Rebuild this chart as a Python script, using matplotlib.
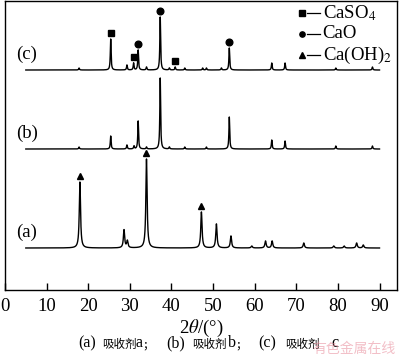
import numpy as np
import matplotlib
matplotlib.use("Agg")
import matplotlib.pyplot as plt

plt.rcParams['font.family'] = ['Liberation Serif', 'Noto Sans CJK SC']
plt.rcParams['mathtext.fontset'] = 'stix'

# ---- data: peak positions (2theta, deg) and heights (arbitrary units) ----
a_pos = [18.0, 28.6, 29.4, 34.0, 47.2, 50.8, 54.3, 59.3, 62.6, 64.2, 71.8, 79.0, 81.5, 84.5, 86.1]
a_hgt = [66, 18, 7, 89, 36, 24, 12, 2, 7, 7, 5, 2, 2, 5, 3]

b_pos = [17.8, 25.4, 29.3, 31.0, 32.0, 34.0, 37.3, 39.5, 43.2, 48.4, 53.9, 64.1, 67.3, 79.5, 88.3]
b_hgt = [2, 13, 4, 3, 28, 2, 71, 2, 2, 2, 32, 9, 8, 3, 3]

c_pos = [17.8, 25.4, 29.3, 30.9, 32.0, 34.0, 37.3, 39.5, 40.9, 43.2, 47.5, 48.4, 52.0, 53.9, 64.1, 67.3, 79.5, 88.3]
c_hgt = [2, 31, 5, 7, 20, 3, 53, 2, 3, 2, 2, 2, 2, 22, 7, 7, 2, 3]

# vertical offsets of the stacked patterns
offsets = {'a': 42, 'b': 141, 'c': 220}

# phase markers: which peaks are labelled, per pattern
caso4_marks = {'c': [25.4, 30.9, 40.9]}
cao_marks = {'c': [32.0, 37.3, 53.9]}
caoh2_marks = {'a': [18.0, 34.0, 47.2]}

series_labels = ['(a)', '(b)', '(c)']
xticks = [0, 10, 20, 30, 40, 50, 60, 70, 80, 90]

fig = plt.figure(figsize=(4.0, 3.58), dpi=100)
ax = fig.add_axes([5/400, 1 - 290/358, 392/400, 289/358])

x = np.arange(5.0, 90.0001, 0.02)

def pattern(pos, hgt, w):
    y = np.zeros_like(x)
    for p, h in zip(pos, hgt):
        y += h * w**2 / ((x - p)**2 + w**2)
    return y

data = {'a': (a_pos, a_hgt, 0.18), 'b': (b_pos, b_hgt, 0.11), 'c': (c_pos, c_hgt, 0.11)}
for key, (pos, hgt, w) in data.items():
    ax.plot(x, offsets[key] + pattern(pos, hgt, w), color='black', lw=1.0)

def peak_top(key, p):
    pos, hgt, _ = data[key]
    return offsets[key] + hgt[pos.index(p)]

for marks, m, ms in [(caso4_marks, 's', 4.3), (cao_marks, 'o', 4.8), (caoh2_marks, '^', 5.0)]:
    for key, plist in marks.items():
        for p in plist:
            ax.plot(p, peak_top(key, p) + 6, marker=m, color='black', ms=ms, ls='none')

# series labels
for lab, key in zip(series_labels, ['a', 'b', 'c']):
    ax.text(5.3, offsets[key] + 16, lab, fontsize=13.5, ha='center', va='center')

# legend (manual, as in the figure)
leg_items = [('s', 'CaSO$_4$'), ('o', 'CaO'), ('^', 'Ca(OH)$_2$')]
for i, (m, t) in enumerate(leg_items):
    yy = 277 - i * 21
    ax.plot(71.3, yy, marker=m, color='black', ms=3.8, ls='none')
    ax.plot([72.6, 75.8], [yy, yy], color='black', lw=0.9)
    ax.text(76.3, yy, t, fontsize=13.5, va='center', ha='left')

ax.set_xlim(0, 94.2)
ax.set_ylim(0, 289)
ax.set_xticks(xticks)
ax.set_yticks([])
ax.tick_params(axis='x', direction='in', length=5, width=1, labelsize=13.5, pad=6)
for s in ax.spines.values():
    s.set_linewidth(1.0)

ax.set_xlabel(r'2$\theta$/(°)', fontsize=13.5, labelpad=2)

# caption, in pieces (Latin in serif, Chinese in CJK font)
cap_pieces = [('(a)', 78, 'L'), ('吸收剂', 102, 'C'), ('a', 136, 'L'), ('；', 142, 'C'),
              ('(b)', 166, 'L'), ('吸收剂', 192, 'C'), ('b', 228, 'L'), ('；', 235, 'C'),
              ('(c)', 258, 'L'), ('吸收剂', 285, 'C'), ('c', 331, 'L')]
for t, px, kind in cap_pieces:
    if kind == 'L':
        fig.text(px/400, 1 - 347/358, t, fontsize=11.5, ha='left', va='baseline',
                 family=['Liberation Serif'])
    else:
        fig.text(px/400, 1 - 348/358, t, fontsize=8.3, ha='left', va='baseline',
                 family=['Noto Sans CJK SC'])

fig.text(354/400, 1 - 349/358, '有色金属在线', fontsize=10, ha='center', va='center',
         color='#e88a99', alpha=0.55, family=['Noto Sans CJK SC'])

fig.savefig('out.png', dpi=100)
